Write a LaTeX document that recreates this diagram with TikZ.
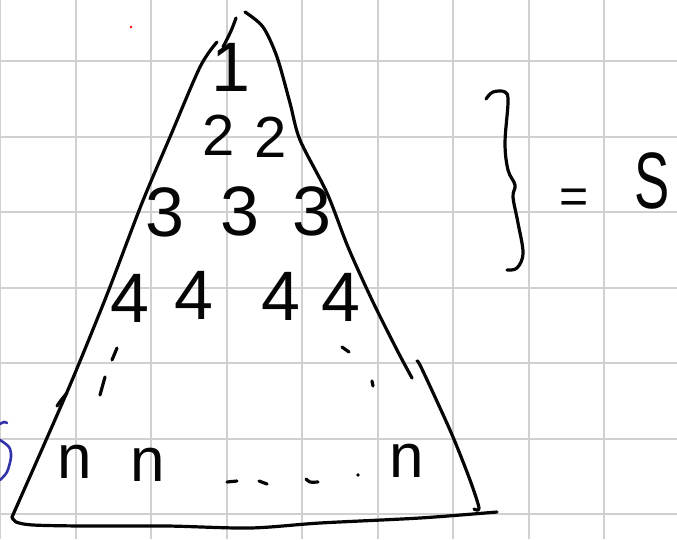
\documentclass[tikz,border=0pt]{standalone}
\usepackage{fontspec}
\setmainfont{Liberation Sans}
\definecolor{gridgray}{RGB}{208,208,208}
\definecolor{pen}{RGB}{5,5,5}
\definecolor{bluepen}{RGB}{50,50,170}
\begin{document}
\begin{tikzpicture}[x=1pt,y=-1pt,
  ink/.style={draw=pen,line width=3.2pt,line cap=round,line join=round},
  gridline/.style={draw=gridgray,line width=2pt},
  digit/.style={inner sep=0pt,text=pen},
  big/.style={digit,font=\fontsize{70}{72}\selectfont},
  mid/.style={digit,font=\fontsize{58}{60}\selectfont},
  small/.style={digit,font=\fontsize{62}{64}\selectfont}]
\useasboundingbox (0,0) rectangle (677,539);
\fill[white] (0,0) rectangle (677,539);
% grid paper
\foreach \gx in {0,75.5,151,226.5,302,377.5,453,528.5,604}
  \draw[gridline] (\gx,0) -- (\gx,539);
\foreach \gy in {61,136.5,212,287.5,363,438.5,514}
  \draw[gridline] (0,\gy) -- (677,\gy);
% red dot
\fill[red] (131,27) circle (1.3pt);
% triangle: left side
\draw[ink] plot[smooth,tension=0.5] coordinates {(217,42) (200,67) (170,137) (142,203) (108,292) (73,378) (43,447) (12,517)};
\draw[ink] plot[smooth] coordinates {(57,406) (62,399) (67,393)};
% bottom
\draw[ink] plot[smooth,tension=0.5] coordinates {(12,517) (16,522) (33,525) (83,526) (167,526) (250,528) (320,523) (420,518) (497,512)};
% right side
\draw[ink] plot[smooth,tension=0.5] coordinates {(245,12) (263,27) (277,57) (290,103) (300,140) (327,193) (348,247) (372,300) (397,350) (412,378)};
\draw[ink] plot[smooth,tension=0.5] coordinates {(417,361) (420,365) (435,397) (453,437) (470,480) (479,508) (474,509)};
% top small stroke
\draw[ink] plot[smooth] coordinates {(236,18) (231,31) (223,47)};
% brace
\draw[ink] plot[smooth,tension=0.6] coordinates {(486,99) (493,92) (505,92) (508,102) (505,143) (508,170) (515,185) (513,197) (518,223) (523,253) (517,268) (507,270)};
% dots (left column)
\draw[ink] (117,348) -- (112,360);
\draw[ink] (105,377) -- (100,395);
% dots (right diagonal)
\draw[ink] (342,347) -- (349,352);
\draw[ink] (372,381) -- (373,386);
% dots (bottom row)
\draw[ink] (227,482) -- (237,481);
\draw[ink] (259,481) -- (267,484);
\draw[ink] plot[smooth] coordinates {(306,479) (310,482) (318,482)};
\fill[pen] (358,475) circle (1.8pt);
% blue partial stroke at the left edge
\draw[draw=bluepen,line width=2.6pt,line cap=round] plot[smooth] coordinates {(0,424) (4,422) (7,423)};
\draw[draw=bluepen,line width=2.6pt,line cap=round] plot[smooth] coordinates {(0,440) (9,447) (11,457) (7,472) (0,480)};
% numbers
\node[big] (one) at (231,67) {1};
\node[mid] (twoa) at (219,135) {2};
\node[mid] (twob) at (271,137) {2};
\node[big] (threea) at (165,212) {3};
\node[big] (threeb) at (240,211) {3};
\node[big] (threec) at (312,211) {3};
\node[big] (foura) at (130,298) {4};
\node[big] (fourb) at (194,295) {4};
\node[big] (fourc) at (281,296) {4};
\node[big] (fourd) at (341,297) {4};
\node[small] (na) at (75,462) {n};
\node[small] (nb) at (148,465) {n};
\node[small] (nc) at (407,461) {n};
\node[digit,font=\fontsize{50}{52}\selectfont] (eq) at (574,201) {=};
\node[digit,font=\fontsize{80}{82}\selectfont] (sum) at (652,181) {\scalebox{0.66}[1]{S}};
\end{tikzpicture}
\end{document}
